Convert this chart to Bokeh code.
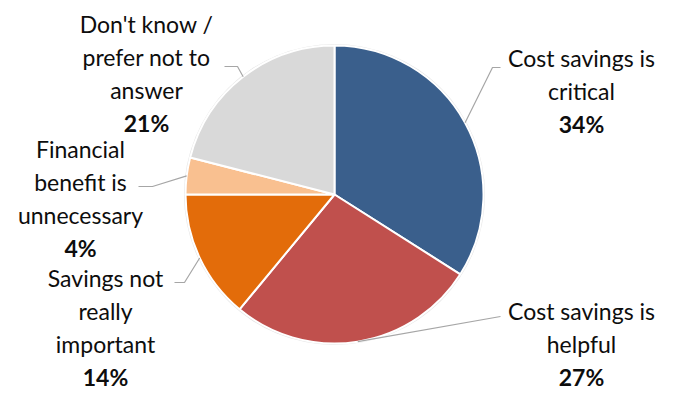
import math
from bokeh.plotting import figure
from bokeh.models import Range1d
from bokeh.core.properties import value
from bokeh.embed import file_html
from bokeh.resources import INLINE

# ---- data ----
categories = ["Cost savings is critical", "Cost savings is helpful",
              "Savings not really important", "Financial benefit is unnecessary",
              "Don't know / prefer not to answer"]
label_lines = [["Cost savings is", "critical"],
               ["Cost savings is", "helpful"],
               ["Savings not", "really", "important"],
               ["Financial", "benefit is", "unnecessary"],
               ["Don't know /", "prefer not to", "answer"]]
shares = [34, 27, 14, 4, 21]
colors = ["#3A5F8C", "#C0504D", "#E36C0A", "#F9C090", "#D9D9D9"]

# ---- layout (screen pixel coordinates) ----
W, H = 659, 392
CX, CY, R = 334, 194, 149
# label block centre x, first line y
label_pos = [(581, 57), (581, 310), (105, 277), (80, 148), (146, 23)]
LINE_H = 33
FS = "23px"
# leader elbow and end points
leader_pts = [[(492, 67), (500, 67)],
              [(500, 316)],
              [(184, 282), (174, 282)],
              [(152, 186), (138, 186)],
              [(237, 66), (224, 66)]]

def Y(ys):
    return H - ys

p = figure(width=W, height=H, output_backend="svg", toolbar_location=None,
           x_range=Range1d(0, W), y_range=Range1d(0, H),
           min_border=0, outline_line_color=None)
p.axis.visible = False
p.grid.visible = False
p.background_fill_color = "white"
p.border_fill_color = "white"

# soft shadow
p.circle(x=[CX], y=[Y(CY)], radius=R + 1.5, radius_units="screen",
         fill_color="#d0d0d0", fill_alpha=0.6, line_color=None)

total = float(sum(shares))
cum = 0.0
mids = []
for s, c in zip(shares, colors):
    a0 = math.pi / 2 - 2 * math.pi * cum / total
    cum += s
    a1 = math.pi / 2 - 2 * math.pi * cum / total
    mids.append((a0 + a1) / 2)
    p.wedge(x=[CX], y=[Y(CY)], radius=R, radius_units="screen",
            start_angle=a0, end_angle=a1, direction="clock",
            fill_color=c, line_color="white", line_width=2)

FONT = "Lato"
for i, (lines, s) in enumerate(zip(label_lines, shares)):
    m = mids[i]
    sx = CX + R * math.cos(m)
    sy = CY - R * math.sin(m)
    xs = [sx] + [pt[0] for pt in leader_pts[i]]
    ys = [sy] + [pt[1] for pt in leader_pts[i]]
    p.line(x=xs, y=[Y(v) for v in ys], line_color="#A6A6A6", line_width=1.2)
    lx, ly = label_pos[i]
    for j, t in enumerate(lines):
        p.text(x=[lx], y=[Y(ly + j * LINE_H)], text=[t],
               text_font=value(FONT), text_font_size=FS,
               text_align="center", text_baseline="middle", text_color="#0d0d0d")
    p.text(x=[lx], y=[Y(ly + len(lines) * LINE_H)], text=[f"{s}%"],
           text_font=value(FONT), text_font_size=FS, text_font_style="bold",
           text_align="center", text_baseline="middle", text_color="#0d0d0d")

open("out.html", "w").write(file_html(p, INLINE))
